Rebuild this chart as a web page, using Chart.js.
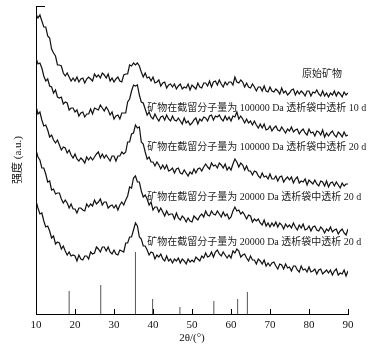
<!DOCTYPE html>
<html>
<head>
<meta charset="utf-8">
<script src="https://cdn.jsdelivr.net/npm/chart.js@4.4.0/dist/chart.umd.min.js"></script>
<style>
  html, body { margin: 0; padding: 0; background: #fff; }
  #grafico { display: block; }
</style>
</head>
<body>
<canvas id="grafico" width="381" height="353"></canvas>
<script>
// ================= DADOS =================

// 2θ sampling grid: 10° to 90° every 0.5°
const doisTheta = []
for (let i = 0; i <= 160; i++) doisTheta.push(10 + i * 0.5)

// Tick labels of the 2θ axis
const ticksX = [10, 20, 30, 40, 50, 60, 70, 80, 90]

// Intensities (a.u., stacked offsets as in the figure), one row = 5°
const original = [
  300, 296, 299, 293, 287, 287, 278, 276, 265, 261,
  258, 249, 249, 248, 241, 238, 241, 237, 233, 236,
  233, 237, 232, 235, 236, 231, 235, 237, 235, 233,
  240, 237, 239, 236, 241, 239, 236, 240, 233, 236,
  232, 235, 237, 233, 232, 239, 240, 240, 249, 248,
  251, 249, 251, 248, 242, 237, 241, 236, 237, 233,
  237, 231, 232, 234, 228, 231, 232, 226, 229, 230,
  227, 230, 225, 228, 230, 225, 227, 226, 230, 224,
  229, 227, 225, 231, 227, 226, 231, 231, 228, 233,
  227, 232, 233, 229, 234, 230, 227, 232, 229, 232,
  232, 229, 237, 232, 231, 234, 232, 227, 231, 227,
  226, 230, 227, 223, 227, 227, 223, 228, 223, 222,
  227, 223, 222, 225, 223, 220, 226, 221, 223, 219,
  221, 224, 225, 219, 223, 220, 223, 221, 218, 223,
  223, 218, 222, 221, 224, 220, 218, 223, 218, 221,
  217, 221, 219, 223, 218, 222, 220, 217, 222, 219,
  221
]

const da100k10d = [
  256, 250, 251, 246, 238, 233, 235, 228, 227, 221,
  224, 217, 216, 217, 210, 212, 211, 204, 206, 206,
  202, 204, 198, 201, 202, 197, 200, 200, 205, 200,
  206, 205, 204, 209, 206, 203, 207, 204, 199, 202,
  195, 198, 199, 195, 201, 201, 201, 212, 215, 223,
  229, 228, 229, 219, 212, 211, 205, 199, 202, 197,
  195, 200, 196, 193, 197, 198, 194, 199, 195, 193,
  198, 194, 193, 196, 193, 190, 196, 191, 193, 189,
  191, 194, 196, 190, 195, 193, 197, 196, 193, 198,
  199, 194, 198, 197, 199, 195, 193, 198, 194, 197,
  193, 198, 197, 202, 195, 198, 195, 191, 195, 191,
  193, 189, 193, 189, 186, 190, 186, 190, 184, 185,
  188, 183, 186, 188, 184, 183, 187, 184, 181, 185,
  183, 187, 182, 184, 185, 180, 183, 185, 181, 179,
  185, 181, 182, 178, 183, 182, 179, 184, 177, 181,
  178, 181, 183, 179, 177, 182, 180, 177, 182, 178,
  179
]

const da100k20d = [
  208, 200, 202, 194, 188, 189, 184, 177, 179, 174,
  171, 174, 169, 164, 167, 166, 161, 164, 159, 156,
  160, 155, 153, 156, 154, 151, 157, 154, 157, 154,
  157, 160, 162, 156, 160, 156, 159, 156, 153, 158,
  158, 153, 158, 158, 162, 160, 162, 172, 172, 180,
  181, 189, 186, 187, 172, 170, 162, 155, 157, 152,
  152, 148, 152, 149, 145, 149, 145, 149, 143, 144,
  146, 141, 145, 146, 141, 140, 144, 141, 138, 142,
  140, 145, 141, 145, 146, 143, 147, 150, 147, 145,
  151, 148, 149, 146, 151, 149, 146, 150, 144, 147,
  144, 150, 155, 152, 147, 151, 149, 144, 148, 143,
  143, 139, 143, 142, 138, 136, 141, 137, 138, 135,
  140, 135, 135, 138, 133, 137, 138, 132, 135, 137,
  134, 137, 131, 135, 137, 131, 133, 132, 135, 129,
  134, 132, 130, 134, 130, 128, 133, 132, 128, 133,
  127, 131, 132, 128, 132, 129, 126, 131, 128, 130,
  130
]

const da20kA = [
  164, 157, 154, 146, 146, 140, 132, 133, 124, 125,
  120, 121, 121, 115, 111, 114, 111, 106, 110, 105,
  105, 101, 106, 106, 104, 103, 110, 107, 110, 108,
  114, 110, 112, 115, 109, 112, 112, 106, 108, 109,
  106, 109, 104, 109, 112, 109, 114, 118, 127, 126,
  136, 138, 132, 132, 123, 117, 119, 115, 109, 112,
  104, 107, 107, 102, 106, 102, 98, 103, 99, 100,
  100, 95, 101, 96, 94, 98, 96, 92, 96, 93,
  92, 98, 96, 94, 98, 100, 97, 103, 99, 98,
  103, 100, 99, 103, 100, 97, 102, 98, 100, 95,
  97, 103, 107, 103, 104, 100, 102, 99, 95, 99,
  98, 92, 95, 93, 95, 91, 89, 94, 88, 91,
  87, 91, 88, 92, 87, 91, 89, 85, 90, 87,
  89, 86, 91, 87, 84, 89, 86, 90, 84, 85,
  88, 83, 87, 88, 84, 83, 87, 85, 81, 85,
  83, 87, 82, 84, 85, 80, 83, 85, 81, 79,
  85
]

const da20kB = [
  113, 106, 100, 101, 93, 87, 88, 83, 76, 78,
  70, 72, 71, 65, 68, 63, 59, 62, 58, 59,
  58, 53, 59, 55, 54, 58, 58, 55, 62, 60,
  61, 67, 65, 62, 67, 67, 63, 67, 62, 60,
  64, 60, 59, 64, 63, 62, 71, 71, 77, 77,
  84, 91, 88, 77, 75, 68, 68, 64, 59, 62,
  61, 55, 59, 57, 60, 55, 53, 58, 53, 55,
  51, 55, 53, 56, 51, 55, 53, 50, 55, 52,
  54, 52, 57, 55, 53, 58, 56, 61, 57, 58,
  62, 57, 62, 64, 60, 58, 62, 59, 56, 59,
  56, 63, 61, 65, 63, 57, 59, 60, 56, 53,
  58, 54, 54, 50, 55, 53, 50, 54, 48, 51,
  48, 51, 52, 48, 45, 50, 49, 45, 50, 46,
  47, 43, 48, 48, 44, 42, 48, 44, 45, 42,
  47, 42, 43, 45, 40, 44, 45, 40, 42, 44,
  41, 44, 39, 43, 45, 39, 41, 40, 44, 38,
  43
]

// Reference card lines (2θ, relative intensity)
const padraoPos = [18.5, 26.6, 35.5, 39.9, 46.9, 55.6, 61.7, 64.2]
const padraoInt = [23, 29, 62, 15, 7, 13, 15, 22]

// Curve names
const rotulos = [
  '原始矿物',
  '矿物在截留分子量为 100000 Da 透析袋中透析 10 d',
  '矿物在截留分子量为 100000 Da 透析袋中透析 20 d',
  '矿物在截留分子量为 20000 Da 透析袋中透析 20 d',
  '矿物在截留分子量为 20000 Da 透析袋中透析 20 d'
]

// ================= UTILITÁRIOS =================

function paraPontos(valores) {
  return valores.map((v, i) => ({ x: doisTheta[i], y: v }))
}

function pontosPadrao() {
  const pts = []
  padraoPos.forEach((p, i) => {
    pts.push({ x: p, y: 0 }, { x: p, y: padraoInt[i] }, { x: p, y: null })
  })
  return pts
}

function serie(valores) {
  return {
    data: paraPontos(valores),
    borderColor: '#111',
    borderWidth: 1.2,
    pointRadius: 0,
    tension: 0
  }
}

// where each name sits: left edge (2θ) and height (intensity)
const posRotulos = [
  { x: 78.2, y: 240 },
  { x: 38.5, y: 206 },
  { x: 38.5, y: 167 },
  { x: 38.5, y: 117 },
  { x: 38.5, y: 72 }
]

// inward ticks, top cap of y axis and curve names
const decoracao = {
  id: 'decoracao',
  afterDraw(chart) {
    const ctx = chart.ctx
    const sx = chart.scales.x
    const sy = chart.scales.y
    ctx.save()
    ctx.strokeStyle = '#000'
    ctx.lineWidth = 1
    ctx.beginPath()
    ticksX.forEach(v => {
      const px = Math.round(sx.getPixelForValue(v)) + 0.5
      ctx.moveTo(px, sy.bottom)
      ctx.lineTo(px, sy.bottom - 5)
    })
    const topo = Math.round(sy.getPixelForValue(sy.max)) + 0.5
    ctx.moveTo(sx.left, topo)
    ctx.lineTo(sx.left + 9, topo)
    ctx.stroke()

    ctx.fillStyle = '#222'
    ctx.font = '10px "Liberation Serif", "Noto Sans CJK SC", serif'
    ctx.textBaseline = 'middle'
    ctx.textAlign = 'left'
    rotulos.forEach((t, i) => {
      ctx.fillText(t, sx.getPixelForValue(posRotulos[i].x), sy.getPixelForValue(posRotulos[i].y))
    })
    ctx.restore()
  }
}

// ================= GRÁFICO =================

new Chart(document.getElementById('grafico'), {
  type: 'line',
  data: {
    datasets: [
      serie(original),
      serie(da100k10d),
      serie(da100k20d),
      serie(da20kA),
      serie(da20kB),
      {
        data: pontosPadrao(),
        borderColor: '#555',
        borderWidth: 1,
        pointRadius: 0,
        spanGaps: false
      }
    ]
  },
  options: {
    responsive: false,
    animation: false,
    devicePixelRatio: 1,
    layout: { padding: { top: 6, right: 33, left: 0, bottom: 0 } },
    plugins: {
      legend: { display: false },
      tooltip: { enabled: false }
    },
    scales: {
      x: {
        type: 'linear',
        min: 10,
        max: 90,
        afterFit: s => { s.height = 39 },
        grid: { display: false, drawTicks: false },
        border: { display: true, color: '#000', width: 1 },
        ticks: {
          stepSize: 10,
          padding: 5,
          color: '#111',
          font: { family: '"Liberation Serif", serif', size: 11 }
        },
        title: {
          display: true,
          text: '2θ/(°)',
          color: '#111',
          font: { family: '"Liberation Serif", serif', size: 11 },
          padding: { top: 0, bottom: 8 }
        }
      },
      y: {
        min: 0,
        max: 308,
        afterFit: s => { s.width = 36 },
        grid: { display: false, drawTicks: false },
        border: { display: true, color: '#000', width: 1 },
        ticks: { display: false },
        title: {
          display: true,
          text: '强度 (a.u.)',
          color: '#111',
          font: { family: '"Liberation Serif", "Noto Sans CJK SC", serif', size: 11 },
          padding: { top: 12, bottom: 0 }
        }
      }
    }
  },
  plugins: [decoracao]
})
</script>
</body>
</html>
